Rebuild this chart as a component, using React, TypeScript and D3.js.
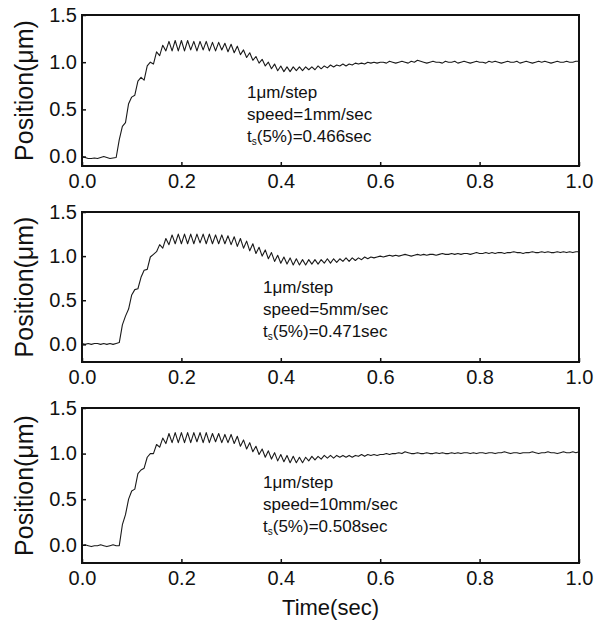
import { useEffect, useRef } from 'react';
import * as d3 from 'd3';

const DT = 0.00625;

const X_TICKS = [0, 0.2, 0.4, 0.6, 0.8, 1.0];
const Y_TICKS = [0, 0.5, 1.0, 1.5];
const Y_MIN = [-0.1, -0.2, -0.2];
const Y_MAX = 1.5;

const STEP_LABEL = '1μm/step';
const SPEEDS = ['1mm/sec', '5mm/sec', '10mm/sec'];
const SETTLING = ['0.466sec', '0.471sec', '0.508sec'];

// Position (um), one value every DT from 0 to 1 sec
const SPEED_1MM = [
    0.00, -0.01, -0.02, -0.02, -0.015, -0.02, -0.01, 0.00, -0.01, -0.02, -0.015, -0.01,
    0.18, 0.32, 0.36, 0.56, 0.63, 0.65, 0.80, 0.84, 0.81, 0.96, 1.00, 0.98,
    1.11, 1.07, 1.18, 1.12, 1.22, 1.12, 1.23, 1.12, 1.23, 1.12, 1.23, 1.13,
    1.22, 1.12, 1.22, 1.13, 1.22, 1.12, 1.21, 1.12, 1.21, 1.13, 1.20, 1.11,
    1.19, 1.10, 1.17, 1.08, 1.13, 1.05, 1.10, 1.02, 1.06, 0.99, 1.03, 0.96,
    1.00, 0.93, 0.98, 0.91, 0.96, 0.90, 0.95, 0.90, 0.95, 0.91, 0.95, 0.91,
    0.95, 0.92, 0.95, 0.92, 0.96, 0.93, 0.96, 0.94, 0.97, 0.95, 0.97, 0.96,
    0.98, 0.96, 0.98, 0.97, 0.99, 0.98, 0.99, 0.98, 1.00, 0.99, 1.00, 0.99,
    1.00, 1.00, 0.99, 1.01, 1.00, 0.99, 1.00, 1.01, 1.00, 0.99, 1.01, 1.00,
    1.02, 1.01, 1.00, 0.99, 1.00, 1.01, 1.00, 1.00, 0.99, 1.01, 1.00, 1.00,
    1.01, 0.99, 1.00, 1.01, 1.00, 0.99, 1.00, 1.01, 1.00, 1.00, 0.99, 1.01,
    1.00, 1.01, 1.00, 0.99, 1.00, 1.01, 1.00, 1.00, 1.01, 0.99, 1.00, 1.01,
    1.00, 0.99, 1.00, 1.01, 1.00, 1.01, 1.00, 0.99, 1.00, 1.01, 1.00, 1.00,
    1.01, 1.00, 1.00, 1.01, 1.01,
];

const SPEED_5MM = [
    0.01, 0.00, 0.01, 0.00, 0.01, 0.01, 0.00, 0.01, 0.00, 0.01, 0.00, 0.01,
    0.02, 0.22, 0.32, 0.40, 0.56, 0.62, 0.63, 0.76, 0.84, 0.85, 0.99, 1.02,
    1.05, 1.13, 1.09, 1.20, 1.13, 1.24, 1.14, 1.25, 1.14, 1.25, 1.14, 1.25,
    1.14, 1.25, 1.15, 1.25, 1.14, 1.25, 1.14, 1.24, 1.14, 1.24, 1.14, 1.23,
    1.13, 1.22, 1.11, 1.20, 1.09, 1.17, 1.06, 1.14, 1.03, 1.10, 1.00, 1.07,
    0.97, 1.04, 0.94, 1.01, 0.92, 0.99, 0.91, 0.98, 0.90, 0.97, 0.90, 0.96,
    0.90, 0.96, 0.91, 0.96, 0.91, 0.96, 0.92, 0.97, 0.92, 0.97, 0.93, 0.97,
    0.94, 0.98, 0.94, 0.98, 0.95, 0.98, 0.96, 0.99, 0.97, 0.99, 0.98, 0.99,
    1.00, 0.99, 1.00, 1.01, 1.00, 1.01, 1.00, 1.01, 1.02, 1.01, 1.00, 1.01,
    1.02, 1.01, 1.02, 1.01, 1.02, 1.02, 1.01, 1.02, 1.03, 1.02, 1.02, 1.03,
    1.02, 1.03, 1.02, 1.03, 1.03, 1.02, 1.03, 1.04, 1.03, 1.03, 1.04, 1.03,
    1.04, 1.03, 1.04, 1.04, 1.03, 1.04, 1.04, 1.05, 1.04, 1.04, 1.03, 1.04,
    1.04, 1.05, 1.04, 1.04, 1.05, 1.04, 1.05, 1.04, 1.04, 1.05, 1.04, 1.05,
    1.04, 1.05, 1.04, 1.05, 1.05,
];

const SPEED_10MM = [
    -0.01, 0.00, -0.01, -0.02, -0.01, -0.01, 0.00, -0.01, -0.02, -0.01, 0.00, -0.01,
    -0.01, 0.22, 0.33, 0.50, 0.59, 0.61, 0.78, 0.82, 0.84, 0.96, 1.00, 1.00,
    1.10, 1.07, 1.17, 1.11, 1.22, 1.12, 1.23, 1.12, 1.23, 1.12, 1.23, 1.12,
    1.23, 1.13, 1.23, 1.12, 1.23, 1.12, 1.22, 1.13, 1.22, 1.12, 1.21, 1.12,
    1.21, 1.11, 1.19, 1.08, 1.15, 1.05, 1.12, 1.02, 1.08, 0.99, 1.05, 0.96,
    1.03, 0.94, 1.01, 0.92, 0.99, 0.91, 0.98, 0.90, 0.97, 0.90, 0.96, 0.90,
    0.96, 0.92, 0.97, 0.93, 0.97, 0.94, 0.98, 0.95, 0.98, 0.95, 0.98, 0.96,
    0.98, 0.96, 0.98, 0.96, 0.98, 0.97, 0.99, 0.97, 0.99, 0.98, 0.99, 0.98,
    0.99, 0.99, 1.00, 0.99, 1.00, 1.00, 1.01, 1.00, 1.02, 1.01, 1.00, 1.00,
    1.01, 1.00, 1.00, 1.01, 1.00, 1.00, 1.01, 1.00, 1.01, 1.00, 1.00, 1.01,
    1.00, 1.01, 1.00, 1.01, 1.01, 1.00, 1.01, 1.00, 1.01, 1.01, 1.00, 1.01,
    1.01, 1.00, 1.01, 1.01, 1.02, 1.01, 1.00, 1.01, 1.01, 1.00, 1.01, 1.01,
    1.01, 1.02, 1.01, 1.00, 1.01, 1.01, 1.02, 1.01, 1.01, 1.00, 1.01, 1.02,
    1.01, 1.01, 1.02, 1.01, 1.02,
];

const SERIES = [SPEED_1MM, SPEED_5MM, SPEED_10MM];

const FONT = '"Liberation Sans", Arial, Helvetica, sans-serif';
const INK = '#111';

const WIDTH = 602;
const HEIGHT = 626;
const LEFT = 82;
const RIGHT = 579;

// vertical extent of each panel's plot area
const PANEL_BOX = [
    { top: 15, bottom: 166 },
    { top: 212, bottom: 362 },
    { top: 408, bottom: 563 },
];
const NOTE_POS = [
    { x: 247, y: 98 },
    { x: 263, y: 293 },
    { x: 263, y: 488 },
];

export default function App() {
    const svgRef = useRef<SVGSVGElement | null>(null);

    useEffect(() => {
        if (!svgRef.current) return;
        const svg = d3.select(svgRef.current);
        svg.selectAll('*').remove();

        const x = d3.scaleLinear().domain([0, 1]).range([LEFT, RIGHT]);

        SERIES.forEach((values, p) => {
            const box = PANEL_BOX[p];
            const y = d3.scaleLinear().domain([Y_MIN[p], Y_MAX]).range([box.bottom, box.top]);
            const g = svg.append('g');

            // trace
            const line = d3.line<number>()
                .x((_, i) => x(i * DT))
                .y(d => y(d));
            g.append('path')
                .datum(values)
                .attr('d', line)
                .attr('fill', 'none')
                .attr('stroke', '#1a1a1a')
                .attr('stroke-width', 1.1)
                .attr('stroke-linejoin', 'round');

            // axes, ticks pointing inward
            const xAxis = g.append('g')
                .attr('transform', `translate(0,${box.bottom})`)
                .call(d3.axisBottom(x).tickValues(X_TICKS).tickSize(-4).tickPadding(8)
                    .tickFormat(d3.format('.1f')));
            xAxis.select('.domain').remove();
            xAxis.selectAll('line').attr('stroke', INK).attr('stroke-width', 1.5);
            xAxis.selectAll('text')
                .attr('fill', INK)
                .style('font-family', FONT)
                .style('font-size', '20px');

            const yAxis = g.append('g')
                .attr('transform', `translate(${LEFT},0)`)
                .call(d3.axisLeft(y).tickValues(Y_TICKS).tickSize(-4).tickPadding(5)
                    .tickFormat(d3.format('.1f')));
            yAxis.select('.domain').remove();
            yAxis.selectAll('line').attr('stroke', INK).attr('stroke-width', 1.5);
            yAxis.selectAll('text')
                .attr('fill', INK)
                .style('font-family', FONT)
                .style('font-size', '20px');

            // frame
            g.append('rect')
                .attr('x', LEFT).attr('y', box.top)
                .attr('width', RIGHT - LEFT).attr('height', box.bottom - box.top)
                .attr('fill', 'none')
                .attr('stroke', INK)
                .attr('stroke-width', 2);

            // y title
            g.append('text')
                .attr('transform', `translate(33,${(box.top + box.bottom) / 2}) rotate(-90)`)
                .attr('text-anchor', 'middle')
                .attr('fill', INK)
                .style('font-family', FONT)
                .style('font-size', '25px')
                .text('Position(μm)');

            // annotation
            const note = NOTE_POS[p];
            const t = g.append('text')
                .attr('x', note.x).attr('y', note.y)
                .attr('fill', INK)
                .style('font-family', FONT)
                .style('font-size', '17px');
            t.append('tspan').text(STEP_LABEL);
            t.append('tspan').attr('x', note.x).attr('dy', 22).text(`speed=${SPEEDS[p]}`);
            t.append('tspan').attr('x', note.x).attr('dy', 22).text('t');
            t.append('tspan').attr('dy', 3).style('font-size', '10px').text('s');
            t.append('tspan').attr('dy', -3).text(`(5%)=${SETTLING[p]}`);
        });

        svg.append('text')
            .attr('x', (LEFT + RIGHT) / 2)
            .attr('y', 615)
            .attr('text-anchor', 'middle')
            .attr('fill', INK)
            .style('font-family', FONT)
            .style('font-size', '22px')
            .text('Time(sec)');
    }, []);

    return (
        <svg ref={svgRef} width={WIDTH} height={HEIGHT}
            style={{ position: 'absolute', left: 0, top: 0, background: '#fff' }} />
    );
}
